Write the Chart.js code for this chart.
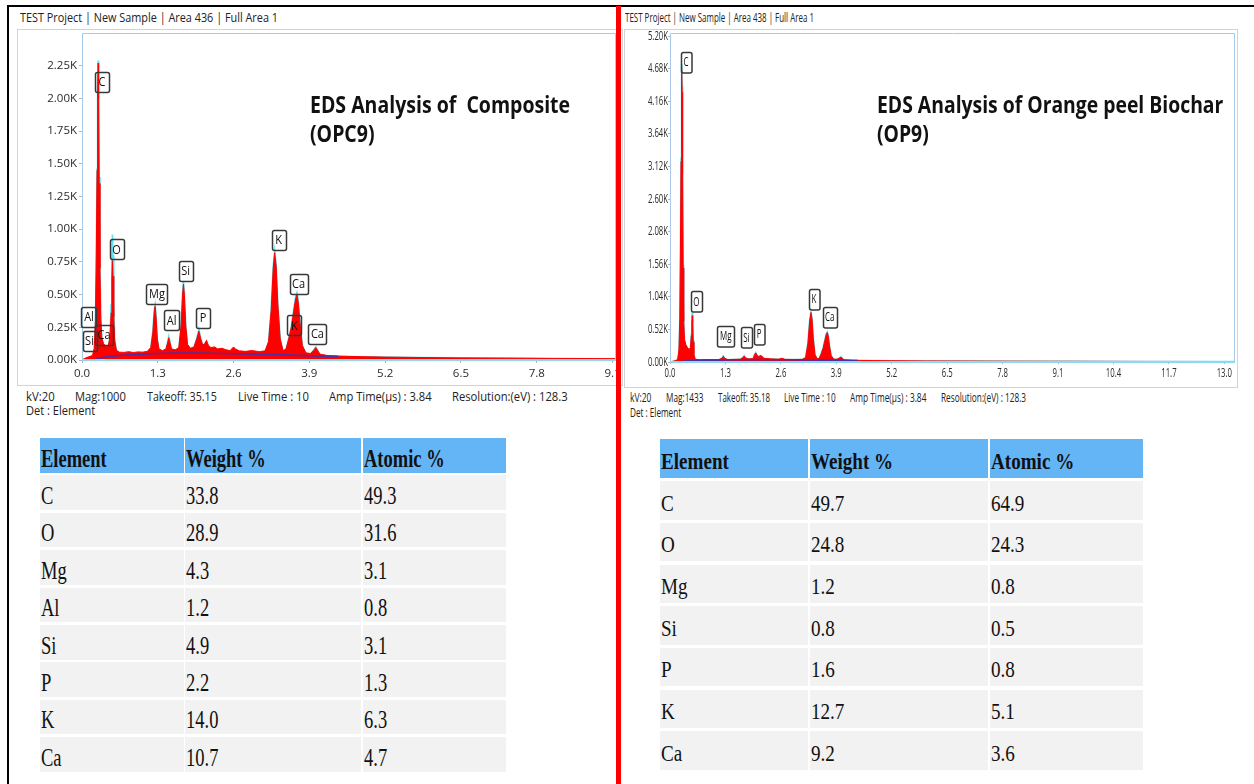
<!DOCTYPE html>
<html lang="en">
<head>
<meta charset="utf-8">
<title>EDS Analysis – OPC9 and OP9</title>
<script src="https://cdn.jsdelivr.net/npm/chart.js@4.4.1/dist/chart.umd.min.js"></script>
<style>
  html, body { margin: 0; padding: 0; background: #fff; }
  #page { position: relative; width: 1254px; height: 784px; overflow: hidden; background: #fff; }
  .frame { position: absolute; box-sizing: border-box; border: 1px solid #d3d3d3; }
  canvas { position: absolute; }
  .txt { position: absolute; white-space: pre; transform-origin: 0 50%; color: #222; }
  .cell { position: absolute; }
  .bar { position: absolute; }
</style>
</head>
<body>
<div id="page">
  <div class="frame" style="left:17px;top:29px;width:606px;height:357px"></div>
  <div class="frame" style="left:624px;top:29px;width:614px;height:359px"></div>
  <canvas id="opc9" width="599" height="357" style="left:17px;top:29px"></canvas>
  <canvas id="op9" width="613" height="358" style="left:624px;top:29px"></canvas>
</div>
<script>
// ---------- Composite (OPC9) spectrum ----------
const OPC9_ENERGY = [0.00,0.06,0.12,0.18,0.21,0.23,0.245,0.258,0.268,0.277,0.285,0.295,0.308,0.322,0.34,0.37,0.41,0.45,0.48,0.50,0.512,0.522,0.532,0.545,0.56,0.59,0.64,0.72,0.80,0.88,0.96,1.04,1.12,1.18,1.215,1.238,1.254,1.27,1.292,1.32,1.38,1.44,1.47,1.488,1.505,1.535,1.60,1.66,1.70,1.725,1.74,1.755,1.78,1.81,1.86,1.92,1.97,2.005,2.035,2.07,2.105,2.135,2.165,2.21,2.27,2.33,2.40,2.47,2.54,2.60,2.63,2.70,2.80,2.92,3.04,3.14,3.20,3.245,3.28,3.305,3.33,3.36,3.40,3.45,3.50,3.545,3.59,3.63,3.665,3.688,3.71,3.74,3.78,3.84,3.92,3.975,4.01,4.04,4.08,4.20,4.40,4.70,5.20,5.80,6.50,7.30,8.10,9.20];
const OPC9_COUNTS = [0,15,25,35,90,300,800,1450,2050,2270,2000,1350,700,320,170,125,105,110,170,360,620,760,640,330,150,75,60,58,64,57,62,60,66,95,210,360,410,330,160,85,72,85,135,170,140,85,78,95,260,500,580,505,260,120,90,100,165,220,165,115,125,150,115,95,100,85,90,78,72,100,85,70,66,72,64,70,140,380,700,820,720,420,160,70,85,160,250,370,470,500,440,280,110,55,50,75,95,75,45,35,30,26,22,19,16,14,12,10];
const OPC9_FIT = [0,10,15,20,60,280,780,1460,2080,2290,2050,1400,720,330,160,110,90,95,180,420,760,960,800,420,170,70,50,48,50,50,52,53,56,90,220,380,425,345,165,75,62,75,140,180,145,80,68,85,270,510,595,520,270,115,78,85,170,235,170,110,120,145,105,80,72,68,66,64,62,60,60,58,56,55,54,58,140,390,715,835,735,430,160,65,80,165,255,380,485,515,450,285,110,50,45,75,100,75,42,32,28,25,22,19,16,14,12,10];
const OPC9_BG_ENERGY = [0.22,0.30,0.45,0.70,1.00,1.30,1.60,2.00,2.40,2.80,3.20,3.60,4.00,4.40];
const OPC9_BG_COUNTS = [0,14,26,36,44,50,53,53,50,46,42,37,31,26];
const OPC9_PEAK_LABELS = [
  ['C', 0.343, 2129], ['O', 0.592, 845], ['Mg', 1.286, 505], ['Al', 1.538, 302],
  ['Si', 1.779, 681], ['P', 2.075, 321], ['Al', 0.12, 329], ['Si', 0.129, 145],
  ['Ca', 0.377, 191], ['K', 3.374, 916], ['Ca', 3.716, 578], ['K', 3.645, 264],
  ['Ca', 4.039, 201]
];
const OPC9_ENERGY_TICKS = [0, 1.3, 2.6, 3.9, 5.2, 6.5, 7.8, 9.1];
const OPC9_COUNT_TICKS = [0, 250, 500, 750, 1000, 1250, 1500, 1750, 2000, 2250];

// ---------- Orange peel biochar (OP9) spectrum ----------
const OP9_ENERGY = [0.00,0.06,0.12,0.18,0.21,0.23,0.245,0.258,0.268,0.277,0.285,0.295,0.308,0.322,0.34,0.37,0.41,0.45,0.48,0.50,0.512,0.522,0.532,0.545,0.56,0.59,0.70,0.85,1.00,1.15,1.22,1.25,1.28,1.35,1.50,1.65,1.71,1.74,1.77,1.85,1.95,1.985,2.01,2.04,2.08,2.12,2.15,2.20,2.35,2.55,2.62,2.70,2.90,3.10,3.18,3.235,3.275,3.305,3.33,3.36,3.40,3.45,3.50,3.545,3.59,3.63,3.665,3.688,3.71,3.74,3.78,3.84,3.92,3.975,4.01,4.04,4.08,4.25,4.60,5.20,6.00,7.00,8.00,9.50,11.00,12.50,13.30];
const OP9_COUNTS = [0,10,20,40,200,700,1800,3200,4350,4700,4300,3000,1500,650,360,280,230,200,230,420,620,740,640,320,120,45,35,38,36,40,60,90,60,40,42,45,70,95,65,48,55,120,145,110,85,105,95,60,50,45,60,42,40,42,70,300,650,790,690,380,120,50,60,130,220,340,440,470,420,260,100,45,45,65,78,60,35,28,24,20,17,15,13,11,9,8,7];
const OP9_FIT = [0,8,15,30,150,650,1800,3250,4450,4760,4400,3100,1550,660,340,250,200,170,220,440,680,800,690,350,130,40,30,32,33,35,60,95,60,36,38,40,70,100,65,42,48,125,150,110,80,100,90,55,45,42,42,40,38,38,70,310,665,800,700,390,120,45,58,135,225,350,455,480,430,265,100,42,40,65,80,60,32,26,23,20,17,15,13,11,9,8,7];
const OP9_BG_ENERGY = [0.22,0.30,0.45,0.70,1.00,1.30,1.60,2.00,2.40,2.80,3.20,3.60,4.00,4.40];
const OP9_BG_COUNTS = [0,12,20,26,30,33,36,38,37,35,33,30,27,24];
const OP9_PEAK_LABELS = [
  ['C', 0.375, 4784], ['O', 0.617, 965], ['Mg', 1.309, 414], ['Si', 1.79, 387],
  ['P', 2.088, 442], ['K', 3.378, 1006], ['Ca', 3.746, 714]
];
const OP9_ENERGY_TICKS = [0, 1.3, 2.6, 3.9, 5.2, 6.5, 7.8, 9.1, 10.4, 11.7, 13.0];
const OP9_COUNT_TICKS = [0, 520, 1040, 1560, 2080, 2600, 3120, 3640, 4160, 4680, 5200];

// ---------- Quantification tables ----------
const OPC9_ELEMENTS = ['C', 'O', 'Mg', 'Al', 'Si', 'P', 'K', 'Ca'];
const OPC9_WEIGHT = [33.8, 28.9, 4.3, 1.2, 4.9, 2.2, 14.0, 10.7];
const OPC9_ATOMIC = [49.3, 31.6, 3.1, 0.8, 3.1, 1.3, 6.3, 4.7];
const OP9_ELEMENTS = ['C', 'O', 'Mg', 'Si', 'P', 'K', 'Ca'];
const OP9_WEIGHT = [49.7, 24.8, 1.2, 0.8, 1.6, 12.7, 9.2];
const OP9_ATOMIC = [64.9, 24.3, 0.8, 0.5, 0.8, 5.1, 3.6];
const TABLE_HEADERS = ['Element', 'Weight %', 'Atomic %'];

const page = document.getElementById('page');
const UI_FONT = '"Open Sans", "Liberation Sans", Arial, sans-serif';

function addText(str, x, cy, o) {
  const el = document.createElement('div');
  el.className = 'txt';
  el.textContent = str;
  const lh = o.lh || Math.round(o.size * 1.3);
  el.style.left = x + 'px';
  el.style.top = (cy - lh / 2) + 'px';
  el.style.font = `${o.weight || 'normal'} ${o.size}px ${o.family || UI_FONT}`;
  el.style.lineHeight = lh + 'px';
  if (o.color) el.style.color = o.color;
  page.appendChild(el);
  let sx = o.sx || 1;
  if (o.w) sx = o.w / el.offsetWidth;
  if (sx !== 1) el.style.transform = `scaleX(${sx})`;
  return sx;
}

function roundedRect(ctx, x, y, w, h, r) {
  ctx.moveTo(x + r, y);
  ctx.lineTo(x + w - r, y); ctx.arcTo(x + w, y, x + w, y + r, r);
  ctx.lineTo(x + w, y + h - r); ctx.arcTo(x + w, y + h, x + w - r, y + h, r);
  ctx.lineTo(x + r, y + h); ctx.arcTo(x, y + h, x, y + h - r, r);
  ctx.lineTo(x, y + r); ctx.arcTo(x, y, x + r, y, r);
  ctx.closePath();
}

const pts = (xs, ys) => xs.map((x, i) => ({ x, y: ys[i] }));

// plot frame + boxed element markers
function frameAndLabels(labels, font, sx, minW, boxH) {
  return {
    id: 'frameAndLabels',
    afterDatasetsDraw(chart) {
      const { ctx, chartArea: a, scales: { x, y } } = chart;
      ctx.save();
      ctx.strokeStyle = '#a7c9ea'; ctx.lineWidth = 1;
      ctx.beginPath();
      ctx.moveTo(a.left + 0.5, a.bottom); ctx.lineTo(a.left + 0.5, a.top + 0.5);
      ctx.lineTo(a.right - 0.5, a.top + 0.5); ctx.lineTo(a.right - 0.5, a.bottom);
      ctx.stroke();
      ctx.strokeStyle = '#8fd9ef'; ctx.lineWidth = 2;
      ctx.beginPath(); ctx.moveTo(a.left, a.bottom); ctx.lineTo(a.right, a.bottom); ctx.stroke();
      ctx.font = font; ctx.textAlign = 'center'; ctx.textBaseline = 'middle';
      labels.forEach(([name, e, c]) => {
        const px = x.getPixelForValue(e), py = y.getPixelForValue(c);
        const w = Math.max(Math.round(ctx.measureText(name).width * sx) + 5, minW);
        const l = Math.round(px - w / 2) + 0.5, t = Math.round(py - boxH / 2) + 0.5;
        ctx.beginPath(); roundedRect(ctx, l, t, w, boxH, 2);
        ctx.strokeStyle = '#383838'; ctx.lineWidth = 1.5; ctx.stroke();
        ctx.save(); ctx.translate(px, py + 0.5); ctx.scale(sx, 1);
        ctx.fillStyle = '#111'; ctx.fillText(name, 0, 0); ctx.restore();
      });
      ctx.restore();
    }
  };
}

// narrow tick labels drawn at the scale's own tick positions
function condensedTicks(font, sx) {
  return {
    id: 'condensedTicks',
    afterDraw(chart) {
      const { ctx, chartArea: a, scales: { x, y } } = chart;
      ctx.save(); ctx.font = font; ctx.fillStyle = '#2a2a2a'; ctx.textBaseline = 'middle';
      x.ticks.forEach(t => {
        ctx.save(); ctx.translate(x.getPixelForValue(t.value), a.bottom + 11.5); ctx.scale(sx, 1);
        ctx.textAlign = 'center'; ctx.fillText(t.label, 0, 0); ctx.restore();
      });
      y.ticks.forEach(t => {
        ctx.save(); ctx.translate(a.left - 2, y.getPixelForValue(t.value)); ctx.scale(sx, 1);
        ctx.textAlign = 'right'; ctx.fillText(t.label, 0, 0); ctx.restore();
      });
      ctx.restore();
    }
  };
}

function spectrumChart(id, d) {
  return new Chart(document.getElementById(id), {
    type: 'line',
    data: {
      datasets: [
        { label: 'Background', data: pts(d.bgE, d.bgC), borderColor: '#4b2fa3', borderWidth: 1.6, pointRadius: 0, fill: false, order: 0 },
        { label: 'Counts', data: pts(d.energy, d.counts), borderColor: '#ff0000', backgroundColor: '#ff0000', borderWidth: 1, pointRadius: 0, fill: 'origin', order: 1 },
        { label: 'Fit', data: pts(d.energy, d.fit), borderColor: '#62e3f3', borderWidth: 1.6, pointRadius: 0, fill: false, order: 2 }
      ]
    },
    options: {
      responsive: false, animation: false, events: [],
      elements: { line: { tension: 0 } },
      layout: { autoPadding: false, padding: { top: 4, right: d.padRight, bottom: 0, left: 0 } },
      plugins: { legend: { display: false }, tooltip: { enabled: false } },
      scales: {
        x: {
          type: 'linear', min: 0, max: d.xMax,
          afterBuildTicks: s => { s.ticks = d.xTicks.map(v => ({ value: v })); },
          afterFit: s => { s.height = d.xAxisH; s.paddingLeft = 0; s.paddingRight = 0; },
          ticks: { display: d.nativeTicks, autoSkip: false, maxRotation: 0, padding: 4, color: '#2a2a2a', font: d.tickFont, callback: v => Number(v).toFixed(1) },
          grid: { drawOnChartArea: false, tickLength: d.tickLen, color: '#b5b5b5' },
          border: { display: false }
        },
        y: {
          type: 'linear', min: 0, max: d.yMax,
          afterBuildTicks: s => { s.ticks = d.yTicks.map(v => ({ value: v })); },
          afterFit: s => { s.width = d.yAxisW; s.paddingTop = 0; s.paddingBottom = 0; },
          ticks: { display: d.nativeTicks, padding: 2, color: '#2a2a2a', font: d.tickFont, callback: v => (v / 1000).toFixed(2) + 'K' },
          grid: { drawOnChartArea: false, tickLength: d.tickLen, color: '#b5b5b5' },
          border: { display: false }
        }
      }
    },
    plugins: d.plugins
  });
}

spectrumChart('opc9', {
  energy: OPC9_ENERGY, counts: OPC9_COUNTS, fit: OPC9_FIT, bgE: OPC9_BG_ENERGY, bgC: OPC9_BG_COUNTS,
  xTicks: OPC9_ENERGY_TICKS, yTicks: OPC9_COUNT_TICKS, xMax: 9.16, yMax: 2500,
  yAxisW: 65, xAxisH: 26, padRight: 0, tickLen: 3, nativeTicks: true,
  tickFont: { family: UI_FONT, size: 11.5 },
  plugins: [frameAndLabels(OPC9_PEAK_LABELS, `12.5px ${UI_FONT}`, 0.88, 14, 20)]
});

spectrumChart('op9', {
  energy: OP9_ENERGY, counts: OP9_COUNTS, fit: OP9_FIT, bgE: OP9_BG_ENERGY, bgC: OP9_BG_COUNTS,
  xTicks: OP9_ENERGY_TICKS, yTicks: OP9_COUNT_TICKS, xMax: 13.25, yMax: 5250,
  yAxisW: 46, xAxisH: 25, padRight: 2, tickLen: 2, nativeTicks: false,
  tickFont: { family: UI_FONT, size: 12 },
  plugins: [frameAndLabels(OP9_PEAK_LABELS, `12.5px ${UI_FONT}`, 0.64, 10.5, 20.5), condensedTicks(`12.5px ${UI_FONT}`, 0.62)]
});

// ---------- headers and acquisition details ----------
addText('TEST Project | New Sample | Area 436 | Full Area 1', 19.5, 17.5, { size: 12.5, w: 258 });
addText('TEST Project | New Sample | Area 438 | Full Area 1', 625, 17.5, { size: 12.5, w: 189 });

const HEAD = { size: 24, weight: 'bold', family: '"Open Sans", Lato, sans-serif', color: '#111' };
let hs = addText('EDS Analysis of  Composite', 310, 103, Object.assign({ w: 260 }, HEAD));
addText('(OPC9)', 310, 132.5, Object.assign({ sx: hs }, HEAD));
hs = addText('EDS Analysis of Orange peel Biochar', 877, 103.3, Object.assign({ w: 346 }, HEAD));
addText('(OP9)', 877, 132.5, Object.assign({ sx: hs }, HEAD));

[
  ['kV:20', 26, 29], ['Mag:1000', 75, 51], ['Takeoff: 35.15', 147, 70], ['Live Time : 10', 237.5, 71],
  ['Amp Time(\u00b5s) : 3.84', 329, 103], ['Resolution:(eV) : 128.3', 452, 116]
].forEach(([s, x, w]) => addText(s, x, 397, { size: 12.5, w }));
addText('Det : Element', 26, 411.3, { size: 12.5, w: 69 });

[
  ['kV:20', 630, 21.7], ['Mag:1433', 665.7, 37.6], ['Takeoff: 35.18', 717.7, 52.3], ['Live Time : 10', 784, 51.7],
  ['Amp Time(\u00b5s) : 3.84', 850, 76.7], ['Resolution:(eV) : 128.3', 940.7, 85.3]
].forEach(([s, x, w]) => addText(s, x, 397.8, { size: 12.5, w }));
addText('Det : Element', 630, 412.5, { size: 12.5, w: 51 });

// ---------- tables ----------
function drawTable(t) {
  const rows = [TABLE_HEADERS].concat(t.elements.map((el, i) => [el, t.weight[i].toFixed(1), t.atomic[i].toFixed(1)]));
  rows.forEach((row, r) => {
    const top = r === 0 ? t.headTop : t.rowTop + (r - 1) * t.pitch;
    const h = r === 0 ? t.headH : t.rowH;
    row.forEach((txt, c) => {
      const [l, rgt] = t.cols[c];
      const cell = document.createElement('div');
      cell.className = 'cell';
      cell.style.cssText = `left:${l}px;top:${top}px;width:${rgt - l}px;height:${h}px;background:${r === 0 ? '#64b5f6' : '#f2f2f2'}`;
      page.appendChild(cell);
      addText(txt, l + 1, top + (r === 0 ? t.headCap : t.rowCap), {
        size: t.size, weight: r === 0 ? 'bold' : 'normal', sx: t.sx, lh: 30,
        family: '"Liberation Serif", "Times New Roman", serif', color: '#111'
      });
    });
  });
}

drawTable({
  elements: OPC9_ELEMENTS, weight: OPC9_WEIGHT, atomic: OPC9_ATOMIC,
  cols: [[40, 183.5], [185, 361], [362.5, 506]],
  headTop: 438, headH: 35, rowTop: 475.3, rowH: 34.5, pitch: 37.43,
  headCap: 20.7, rowCap: 20.5, size: 25, sx: 0.74
});
drawTable({
  elements: OP9_ELEMENTS, weight: OP9_WEIGHT, atomic: OP9_ATOMIC,
  cols: [[659.5, 808], [810, 988], [990, 1143]],
  headTop: 439, headH: 39, rowTop: 481.3, rowH: 38.5, pitch: 41.67,
  headCap: 22.5, rowCap: 22.2, size: 23, sx: 0.83
});

// ---------- page rules ----------
[
  ['left:7px;top:5px;width:1247px;height:2px;background:#000'],
  ['left:7px;top:5px;width:2px;height:779px;background:#000'],
  ['left:616px;top:6px;width:5px;height:778px;background:#ff0000']
].forEach(([css]) => { const b = document.createElement('div'); b.className = 'bar'; b.style.cssText = css; page.appendChild(b); });
</script>
</body>
</html>
